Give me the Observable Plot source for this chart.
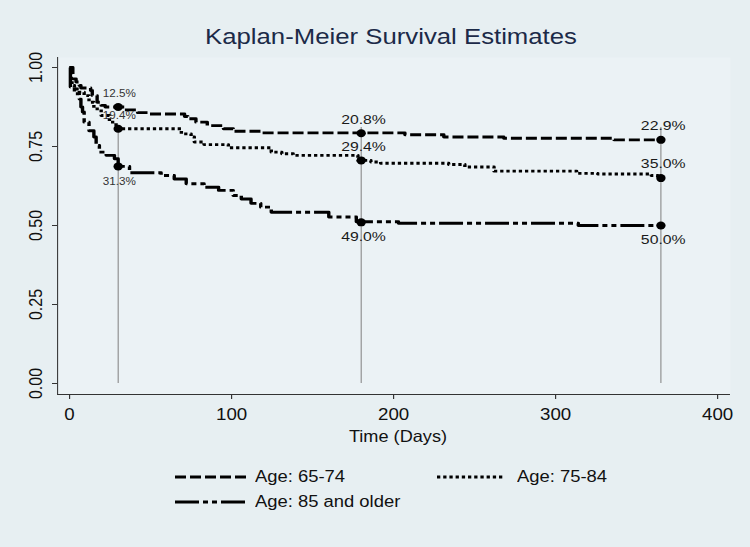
<!DOCTYPE html>
<html>
<head>
<meta charset="utf-8">
<script src="https://cdn.jsdelivr.net/npm/d3@7"></script>
<script src="https://cdn.jsdelivr.net/npm/@observablehq/plot@0.6"></script>
<style>
  html, body { margin: 0; padding: 0; }
  body { width: 750px; height: 547px; background: #e7eff2; font-family: "Liberation Sans", Arial, sans-serif; overflow: hidden; }
  #wrap { position: relative; width: 750px; height: 547px; }
  #chart { position: absolute; left: 0; top: 0; }
  #chart svg { transform-origin: 0 0; }
  .title { position: absolute; left: 0; width: 782px; top: 24px; text-align: center; font-size: 22px; line-height: 26px; color: #1c2a48; transform: scaleX(1.17); transform-origin: 391px 50%; }
  .xlabel { position: absolute; left: 300px; width: 196px; top: 427px; text-align: center; font-size: 16.5px; line-height: 18px; color: #111; transform: scaleX(1.1); transform-origin: 98px 50%; }
  .leg { position: absolute; display: flex; align-items: center; height: 18px; font-size: 16px; color: #111; }
  .leg span { display: inline-block; transform: scaleX(1.15); transform-origin: 0 50%; white-space: nowrap; }
</style>
</head>
<body>
<div id="wrap">
  <div id="chart"></div>
  <div class="title">Kaplan-Meier Survival Estimates</div>
  <div class="xlabel">Time (Days)</div>
  <div id="legend"></div>
</div>
<script>
// ---- data ----
const groups = ["Age: 65-74", "Age: 75-84", "Age: 85 and older"];

const days6574 = [0, 2, 4, 6, 7, 13, 14, 17, 19.5, 22, 34, 42, 49, 71, 73, 78, 85, 95, 101, 118, 207, 231, 268, 336, 365];
const surv6574 = [1.0, 0.964, 0.954, 0.943, 0.935, 0.927, 0.911, 0.89, 0.88, 0.875, 0.866, 0.857, 0.853, 0.845, 0.838, 0.827, 0.816, 0.806, 0.798, 0.793, 0.787, 0.780, 0.776, 0.771, 0.771];

const days7584 = [0, 1, 1.5, 3, 6, 9, 12, 15, 19.5, 24.6, 28.7, 30, 69, 75, 77, 83, 98, 124.5, 131, 138, 178, 186, 192, 234, 244, 262, 313, 326, 359, 363, 365];
const surv7584 = [1.0, 0.96, 0.943, 0.932, 0.922, 0.911, 0.89, 0.869, 0.848, 0.827, 0.816, 0.806, 0.79, 0.78, 0.764, 0.756, 0.746, 0.732, 0.727, 0.722, 0.706, 0.701, 0.697, 0.693, 0.685, 0.672, 0.665, 0.663, 0.658, 0.650, 0.650];

const days85 = [0, 0.5, 3, 6, 7, 8, 9, 12, 15, 16.4, 18.4, 22.6, 27.7, 30, 37, 56.5, 64.6, 72, 83, 92, 101, 106, 112, 118, 124.5, 160, 177, 203, 314, 365];
const surv85 = [1.0, 0.938, 0.917, 0.9, 0.875, 0.859, 0.827, 0.80, 0.78, 0.753, 0.732, 0.722, 0.711, 0.687, 0.667, 0.658, 0.647, 0.632, 0.621, 0.611, 0.595, 0.584, 0.570, 0.558, 0.542, 0.527, 0.512, 0.507, 0.50, 0.50];

const markerDays = [30, 180, 365];
const mort6574 = [12.5, 20.8, 22.9];
const mort7584 = [19.4, 29.4, 35.0];
const mort85 = [31.3, 49.0, 50.0];

const xTicks = [0, 100, 200, 300, 400];
const yTicks = [0, 0.25, 0.5, 0.75, 1];
const refLineTop = 0.81;

// ---- styles ----
const sx = 1.17; // horizontal stretch of the reference rendering
const dashes = ["9.4,3.4", "2.8,2.5", "20.5,3.4,4.3,3.4,4.3,3.4"];
const legendDashes = ["11,4", "3.3,2.9", "24,4,5,4,5,4"];
const labelPos = ["above", "above", "below"];
const xDomain = [-7.4, 408];
const yDomain = [-0.0348, 1.0316];

const series = [
  days6574.map((d, i) => ({day: d, s: surv6574[i]})),
  days7584.map((d, i) => ({day: d, s: surv7584[i]})),
  days85.map((d, i) => ({day: d, s: surv85[i]}))
];
const morts = [mort6574, mort7584, mort85];
const markers = morts.map((m, g) => markerDays.map((d, i) => ({
  day: d, s: 1 - m[i] / 100, label: m[i].toFixed(1) + "%", group: g, small: d === markerDays[0]
})));

const fmtY = d3.format(".2f");
const marks = [
  Plot.frame({fill: "#ebf2f5", stroke: "none"}),
  Plot.ruleX(markerDays, {y1: 0, y2: refLineTop, stroke: "#858585", strokeWidth: 0.9}),
  Plot.ruleX([xDomain[0]], {stroke: "#333", strokeWidth: 0.9}),
  Plot.ruleY([yDomain[0]], {stroke: "#333", strokeWidth: 1}),
  Plot.axisX({ticks: xTicks, tickSize: 5, label: null, tickFormat: () => "", stroke: "#333"}),
  Plot.axisY({ticks: yTicks, tickSize: 5 / sx, label: null, tickFormat: () => "", stroke: "#333"}),
  Plot.text(xTicks, {x: d => d, frameAnchor: "bottom", dy: 20, lineAnchor: "middle", textAnchor: "middle", text: d => String(d), fontSize: 16, fill: "#111"}),
  Plot.text(yTicks, {y: d => d, frameAnchor: "left", dx: -22 / sx, rotate: -90, lineAnchor: "middle", textAnchor: "middle", text: d => fmtY(d), fontSize: 16, fill: "#111"})
];
series.forEach((data, g) => {
  marks.push(Plot.line(data, {x: "day", y: "s", curve: "step-after", stroke: "black", strokeWidth: 2.9, strokeDasharray: dashes[g], strokeLinecap: "butt"}));
});
markers.forEach((data, g) => {
  marks.push(Plot.dot(data, {x: "day", y: "s", r: 4, fill: "black", stroke: "none"}));
  const dy = labelPos[g] === "above" ? -13 : 15;
  marks.push(Plot.text(data.filter(d => d.small), {x: "day", y: "s", text: "label", dy, dx: 1, fontSize: 10, fill: "#333"}));
  marks.push(Plot.text(data.filter(d => !d.small), {x: "day", y: "s", text: "label", dy: dy - 1, dx: 2, fontSize: 13.5, fill: "#1a1a1a"}));
});

const chart = Plot.plot({
  width: 750 / sx,
  height: 547,
  marginLeft: 57 / sx,
  marginRight: 20 / sx,
  marginTop: 57,
  marginBottom: 153,
  x: {domain: xDomain},
  y: {domain: yDomain},
  style: {background: "transparent", fontFamily: "Liberation Sans, Arial, sans-serif"},
  marks
});
chart.style.transform = `scaleX(${sx})`;
chart.style.transformOrigin = "0 0";
document.getElementById("chart").appendChild(chart);

// ---- legend ----
const legendPos = [
  {left: 175, top: 468, w: 72, gap: 8},
  {left: 437, top: 468, w: 68, gap: 12},
  {left: 175, top: 493, w: 72, gap: 8}
];
const legend = document.getElementById("legend");
groups.forEach((name, g) => {
  const p = legendPos[g];
  const div = document.createElement("div");
  div.className = "leg";
  div.style.left = p.left + "px";
  div.style.top = p.top + "px";
  div.innerHTML = `<svg width="${p.w}" height="18" style="margin-right:${p.gap}px"><line x1="0" x2="${p.w}" y1="9" y2="9" stroke="black" stroke-width="2.8" stroke-dasharray="${legendDashes[g]}"/></svg><span>${name}</span>`;
  legend.appendChild(div);
});
</script>
</body>
</html>
